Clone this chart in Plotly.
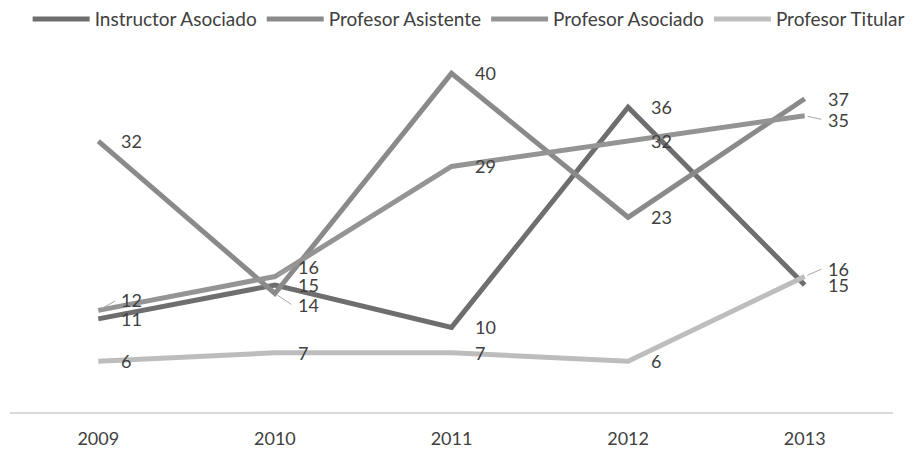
import plotly.graph_objects as go

years = ["2009", "2010", "2011", "2012", "2013"]
instructor_asociado = [11, 15, 10, 36, 15]
profesor_asistente = [32, 14, 40, 23, 37]
profesor_asociado = [12, 16, 29, 32, 35]
profesor_titular = [6, 7, 7, 6, 16]

series = [
    ("Instructor Asociado", instructor_asociado, "#6e6e6e"),
    ("Profesor Asistente", profesor_asistente, "#8a8a8a"),
    ("Profesor Asociado", profesor_asociado, "#949494"),
    ("Profesor Titular", profesor_titular, "#bdbdbd"),
]

# vertical nudges (px) for data labels that would otherwise collide
label_shift = {
    ("Profesor Asociado", 0): 10,
    ("Profesor Asociado", 1): 10,
    ("Profesor Asistente", 1): -12,
    ("Profesor Asociado", 4): -4,
    ("Profesor Titular", 4): 8,
}

fig = go.Figure()
for name, values, color in series:
    fig.add_trace(go.Scatter(
        x=years,
        y=values,
        mode="lines",
        name=name,
        line=dict(color=color, width=5),
        hoverinfo="skip",
    ))

for name, values, color in series:
    for i, v in enumerate(values):
        dy = label_shift.get((name, i), 0)
        fig.add_annotation(
            x=i, y=v, text=str(v), showarrow=False,
            xanchor="left", yanchor="middle",
            xshift=21, yshift=dy,
            font=dict(family="Lato", size=18, color="#404040"),
        )
        if dy:
            # thin leader line from the moved label back to its point
            fig.add_annotation(
                x=i, y=v, text="", showarrow=True, arrowhead=0,
                arrowwidth=1, arrowcolor="#a6a6a6", standoff=3,
                ax=18, ay=-dy,
            )

# page body has an 8px default margin, so the figure is a bit smaller than the window
fig.update_layout(
    width=908,
    height=441,
    margin=dict(l=2, r=23, t=23, b=37, autoexpand=False),
    plot_bgcolor="white",
    paper_bgcolor="white",
    showlegend=True,
    legend=dict(orientation="h", yref="container", yanchor="middle", y=0.975,
                xanchor="left", x=0.02,
                font=dict(family="Lato", size=19, color="#404040"),
                itemwidth=57, tracegroupgap=0),
    xaxis=dict(type="category", range=[-0.5, 4.5], showgrid=False, zeroline=False,
               showline=True, linecolor="#d9d9d9", linewidth=2,
               ticks="", ticklabelstandoff=9, automargin=False,
               tickfont=dict(family="Lato", size=18, color="#404040")),
    yaxis=dict(range=[0, 45], visible=False, showgrid=False, zeroline=False,
               automargin=False),
)

fig.write_html("out.html")
